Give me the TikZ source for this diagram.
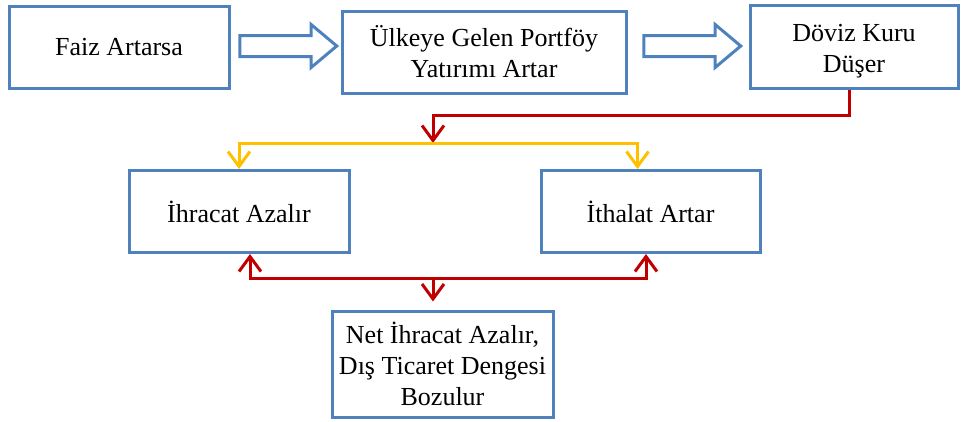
\documentclass[tikz,border=0pt]{standalone}
\usepackage{fontspec}
\setmainfont{Liberation Serif}
\usetikzlibrary{arrows.meta,shapes.arrows}
\definecolor{kutumavi}{HTML}{4F81BD}
\definecolor{koyukirmizi}{HTML}{C00000}
\definecolor{sari}{HTML}{FFC000}
\tikzset{
  kutu/.style={draw=kutumavi, line width=3pt, align=center, inner sep=0pt,
    minimum height=82pt, font=\fontsize{26}{31}\selectfont},
  blok/.style={single arrow, draw=kutumavi, line width=3pt, inner xsep=0pt, inner ysep=9pt,
    minimum height=97pt, minimum width=40pt, single arrow head extend=11pt,
    single arrow tip angle=80},
  ok/.style={line width=3pt, -{Straight Barb[length=15pt,width=22pt]}},
}
\begin{document}
\begin{tikzpicture}[x=1pt,y=-1pt]
\useasboundingbox (0,0) rectangle (961,421);
% ust sira
\node[kutu, minimum width=220pt] (faiz) at (119,47) {Faiz Artarsa};
\node[kutu, minimum width=284pt] (portfoy) at (484,52) {Ülkeye Gelen Portföy\\Yatırımı Artar};
\node[kutu, minimum width=208pt, minimum height=83pt, text height=57pt] (doviz) at (854,46.5) {Döviz Kuru\\Düşer};
\node[blok] (ok1) at (282,46) {};
\node[blok] (ok2) at (686,46) {};
% orta sira
\node[kutu, minimum width=220pt] (ihracat) at (239,211.5) {İhracat Azalır};
\node[kutu, minimum width=219pt] (ithalat) at (650.5,211.5) {İthalat Artar};
% alt
\node[kutu, minimum width=221pt, minimum height=106pt] (net) at (442.5,364) {Net İhracat Azalır,\\Dış Ticaret Dengesi\\Bozulur};
\coordinate (ayrim) at (433,143);
\coordinate (birlesme) at (433,278);
\draw[koyukirmizi, ok] ([xshift=-5pt]doviz.south) |- (433,115) -- (ayrim);
\draw[sari, ok] (ayrim) -| (ihracat.north);
\draw[sari, ok] (ayrim) -| ([xshift=-13pt]ithalat.north);
\draw[koyukirmizi, ok] (birlesme) -| ([xshift=11pt]ihracat.south);
\draw[koyukirmizi, ok] (birlesme) -| ([xshift=-4.5pt]ithalat.south);
\draw[koyukirmizi, ok] (birlesme) -- ([yshift=8pt]birlesme |- net.north);
\end{tikzpicture}
\end{document}
